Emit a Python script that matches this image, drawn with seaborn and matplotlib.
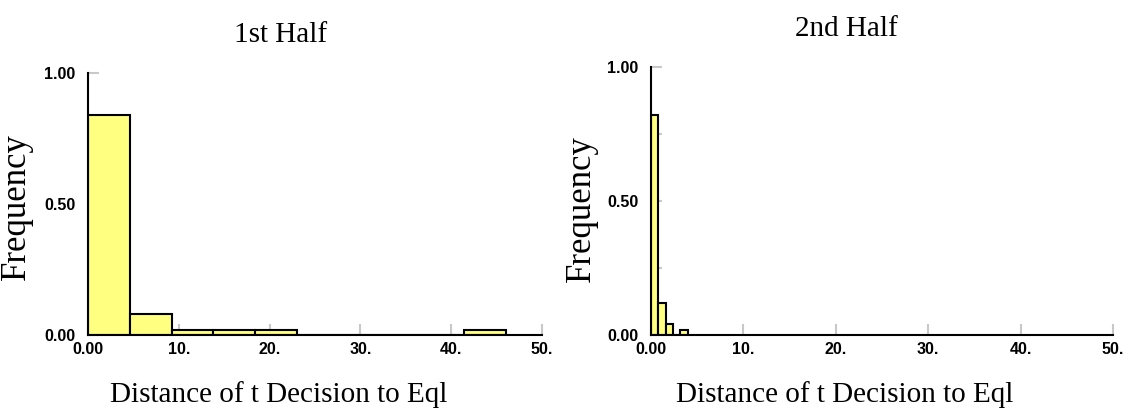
import numpy as np
import matplotlib
matplotlib.use("Agg")
import matplotlib.pyplot as plt
from matplotlib.ticker import FixedLocator
import seaborn as sns

# ---- data ----
first_edges = [0.0, 4.6, 9.2, 13.8, 18.4, 23.0, 27.6, 32.2, 36.8, 41.4, 46.0]
first_freq = [0.84, 0.08, 0.02, 0.02, 0.02, 0.0, 0.0, 0.0, 0.0, 0.02]

second_edges = [0.0, 0.8, 1.6, 2.4, 3.2, 4.0]
second_freq = [0.82, 0.12, 0.04, 0.0, 0.02]

titles = ["1st Half", "2nd Half"]
xlabel = "Distance of t Decision to Eql"
ylabel = "Frequency"
xticks = [0, 10, 20, 30, 40, 50]
xticklabels = ["0.00", "10.", "20.", "30.", "40.", "50."]
yticks = [0.0, 0.5, 1.0]
yticklabels = ["0.00", "0.50", "1.00"]
yminor = [0.25, 0.75]

sns.set_theme(style="white")
plt.rcParams["font.family"] = ["Liberation Serif", "DejaVu Serif"]
plt.rcParams["text.color"] = "black"
plt.rcParams["axes.labelcolor"] = "black"
plt.rcParams["xtick.color"] = "black"
plt.rcParams["ytick.color"] = "black"

fig = plt.figure(figsize=(11.3, 4.09), dpi=100)
ax1 = fig.add_axes([0.0779, 0.181, 0.4018, 0.6406])
ax2 = fig.add_axes([0.576, 0.181, 0.409, 0.655])

# label placement (axes fraction)
title_y = [1.097, 1.095]
xlab_y = [-0.175, -0.172]
ylab_x = [-0.121, -0.115]
ylab_y = [0.49, 0.47]

panels = [(ax1, first_edges, first_freq), (ax2, second_edges, second_freq)]
for i, (ax, edges, freq) in enumerate(panels):
    centers = [(edges[k] + edges[k + 1]) / 2 for k in range(len(freq))]
    sns.histplot(x=centers, weights=freq, bins=edges, ax=ax,
                 color="#FFFF80", edgecolor="black", linewidth=1.5, alpha=1.0)
    ax.set_xlim(0, 50)
    ax.set_ylim(0, 1.0)
    ax.set_xticks(xticks)
    ax.set_xticklabels(xticklabels, family="Liberation Sans", fontweight="bold",
                       fontsize=11.5, color="black")
    ax.set_yticks(yticks)
    ax.set_yticklabels(yticklabels, family="Liberation Sans", fontweight="bold",
                       fontsize=11.5, color="black")
    ax.yaxis.set_minor_locator(FixedLocator(yminor))
    ax.tick_params(axis="both", which="both", direction="in", length=8, width=1.5,
                   color="#c8c8c8", bottom=True, left=True)
    ax.tick_params(axis="y", which="major", pad=9)
    ax.tick_params(axis="x", which="major", pad=5)
    for s in ["top", "right"]:
        ax.spines[s].set_visible(False)
    for s in ["left", "bottom"]:
        ax.spines[s].set_color("black")
        ax.spines[s].set_linewidth(1.5)
    ax.text(0.424, title_y[i], titles[i], transform=ax.transAxes, fontsize=21,
            ha="center", va="bottom", color="black")
    ax.set_xlabel(xlabel, fontsize=21, color="black", va="top")
    ax.xaxis.set_label_coords(0.42, xlab_y[i])
    ax.set_ylabel(ylabel, fontsize=25, color="black")
    ax.yaxis.set_label_coords(ylab_x[i], ylab_y[i])
    ax.set_facecolor("white")

fig.savefig("out.png", dpi=100, facecolor="white")
